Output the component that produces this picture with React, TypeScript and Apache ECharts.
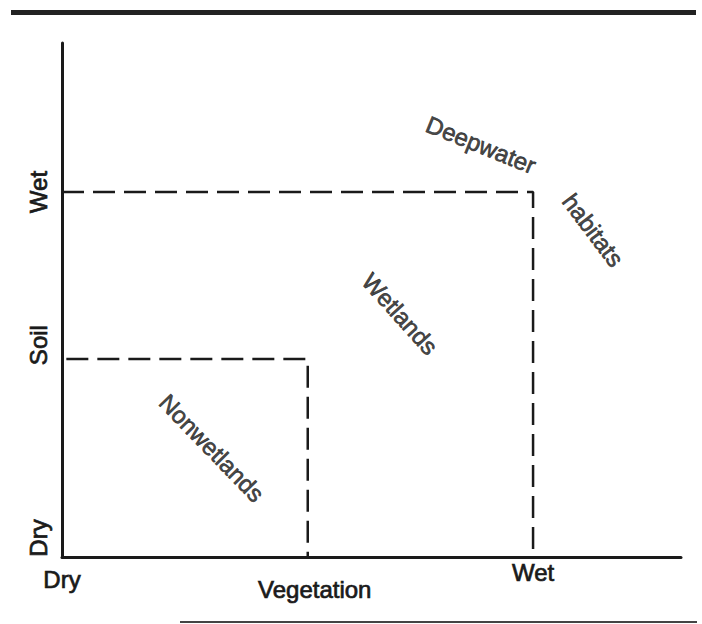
import React, { useEffect, useRef } from 'react';
import * as echarts from 'echarts';

// Axis tick labels (value positions on a 0-100 scale)
const vegetationTickLabels = ['Dry', 'Vegetation', 'Wet'];
const vegetationTickValues = [0, 39.7, 76.1];
const soilTickLabels = ['Dry', 'Soil', 'Wet'];
const soilTickValues = [0, 38.5, 71];

// Boundary lines (vegetation, soil)
const wetlandBoundary = [[0, 71], [76.1, 71], [76.1, 0]];
const nonwetlandBoundary = [[0.7, 38.5], [39.7, 38.5], [39.7, 0]];

// Region labels
const regionNames = ['Deepwater', 'habitats', 'Wetlands', 'Nonwetlands'];
const regionX = [67.7, 85.8, 54.6, 24.2];
const regionY = [80.2, 63.6, 47.3, 21.2];
const regionAngle = [-22, -53, -48, -46];

const INK = '#1a1a1a';
const FONT = '"Liberation Sans", Arial, Helvetica, sans-serif';
const FS = 24;

export default function App() {
  const ref = useRef<HTMLDivElement>(null);
  useEffect(() => {
    if (!ref.current) return;
    const chart = echarts.init(ref.current, null, { renderer: 'svg' });
    const xKeys = ['xd', 'xv', 'xw'];
    const yKeys = ['yd', 'ys', 'yw'];
    const findIdx = (vals: number[], v: number) => {
      let best = 0;
      vals.forEach((t, i) => {
        if (Math.abs(t - v) < Math.abs(vals[best] - v)) best = i;
      });
      return best;
    };
    const base = {
      fontSize: FS,
      fontFamily: FONT,
      color: INK,
      textBorderColor: INK,
      textBorderWidth: 0.7,
    };
    chart.setOption({
      animation: false,
      backgroundColor: '#ffffff',
      grid: { left: 62, right: 21, top: 43, bottom: 67, containLabel: false },
      xAxis: {
        type: 'value',
        min: 0,
        max: 100,
        splitLine: { show: false },
        axisTick: { show: false },
        axisLine: { show: true, lineStyle: { color: INK, width: 3 } },
        axisLabel: {
          customValues: vegetationTickValues,
          margin: 3,
          ...base,
          formatter: (v: number) => {
            const i = findIdx(vegetationTickValues, v);
            return `{${xKeys[i]}|${vegetationTickLabels[i]}}`;
          },
          rich: {
            xd: { ...base, padding: [7, 0, 0, 0] },
            xv: { ...base, padding: [17, 0, 0, 14] },
            xw: { ...base, padding: [0, 0, 0, 0] },
          },
        },
      },
      yAxis: {
        type: 'value',
        min: 0,
        max: 100,
        splitLine: { show: false },
        axisTick: { show: false },
        axisLine: { show: true, lineStyle: { color: INK, width: 3 } },
        axisLabel: {
          customValues: soilTickValues,
          rotate: 90,
          margin: 12,
          ...base,
          formatter: (v: number) => {
            const i = findIdx(soilTickValues, v);
            return `{${yKeys[i]}|${soilTickLabels[i]}}`;
          },
          rich: {
            yd: { ...base, padding: [0, 0, 0, 38] },
            ys: { ...base, padding: [0, 0, 0, 28] },
            yw: { ...base, padding: [0, 0, 0, 0] },
          },
        },
      },
      series: [
        {
          type: 'line',
          data: wetlandBoundary,
          symbol: 'none',
          lineStyle: { color: INK, width: 2.5, type: [22, 9] },
          silent: true,
        },
        {
          type: 'line',
          data: nonwetlandBoundary,
          symbol: 'none',
          lineStyle: { color: INK, width: 2.5, type: [22, 9] },
          silent: true,
        },
        {
          type: 'scatter',
          symbolSize: 0,
          silent: true,
          data: regionNames.map((n, i) => ({
            name: n,
            value: [regionX[i], regionY[i]],
            label: { rotate: regionAngle[i] },
          })),
          label: {
            show: true,
            position: 'inside',
            formatter: '{b}',
            align: 'center',
            verticalAlign: 'middle',
            ...base,
          },
        },
      ],
      graphic: [
        {
          type: 'rect',
          shape: { x: 11, y: 10, width: 685, height: 5 },
          style: { fill: '#222' },
          silent: true,
        },
        {
          type: 'line',
          shape: { x1: 180, y1: 622, x2: 697, y2: 622 },
          style: { stroke: '#444', lineWidth: 2 },
          silent: true,
        },
      ],
    });
    return () => chart.dispose();
  }, []);
  return (
    <div
      ref={ref}
      style={{ position: 'absolute', left: 0, top: 0, width: 702, height: 624 }}
    />
  );
}
